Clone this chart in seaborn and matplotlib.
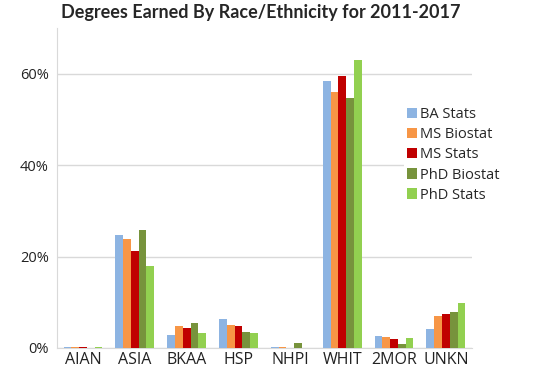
import numpy as np
import pandas as pd
import seaborn as sns
import matplotlib.pyplot as plt
from matplotlib.ticker import MultipleLocator, FuncFormatter

# datos (porcentaje)
races = ['AIAN', 'ASIA', 'BKAA', 'HSP', 'NHPI', 'WHIT', '2MOR', 'UNKN']
degrees = ['BA Stats', 'MS Biostat', 'MS Stats', 'PhD Biostat', 'PhD Stats']
ba_stats = [0.3, 24.8, 2.8, 6.4, 0.2, 58.3, 2.7, 4.1]
ms_biostat = [0.3, 23.9, 4.7, 5.0, 0.2, 56.0, 2.3, 6.9]
ms_stats = [0.2, 21.3, 4.3, 4.8, 0.1, 59.5, 1.9, 7.4]
phd_biostat = [0.0, 25.9, 5.4, 3.6, 1.1, 54.7, 0.9, 7.9]
phd_stats = [0.2, 18.0, 3.2, 3.2, 0.1, 63.0, 2.2, 9.8]
colors = ['#8DB4E2', '#F79646', '#C00000', '#77933C', '#92D050']

series = [ba_stats, ms_biostat, ms_stats, phd_biostat, phd_stats]
df = pd.DataFrame({
    'race': races * len(degrees),
    'degree': np.repeat(degrees, len(races)),
    'pct': np.concatenate(series),
})

sns.set_style('white')
plt.rcParams['font.family'] = ['Open Sans', 'DejaVu Sans']

fig = plt.figure(figsize=(5.38, 3.77), dpi=100)
ax = fig.add_axes([0.106, 0.077, 0.771, 0.849])
sns.barplot(data=df, x='race', y='pct', hue='degree', order=races,
            hue_order=degrees, palette=colors, width=0.75, gap=0,
            saturation=1, linewidth=0, ax=ax, zorder=3)

ax.set_ylim(0, 70)
ax.set_xlim(-0.5, 7.5)
ax.yaxis.set_major_locator(MultipleLocator(20))
ax.yaxis.set_minor_locator(MultipleLocator(5))
ax.yaxis.set_major_formatter(FuncFormatter(lambda v, p: f'{v:.0f}%'))
ax.grid(axis='y', which='major', color='#D9D9D9', lw=1, zorder=0)
ax.set_axisbelow(True)
ax.set_xlabel('')
ax.set_ylabel('')
for s in ['top', 'right']:
    ax.spines[s].set_visible(False)
ax.spines['left'].set_color('#D9D9D9')
ax.spines['bottom'].set_color('#D9D9D9')
ax.tick_params(axis='y', which='both', direction='out', color='#D9D9D9',
               length=4, labelsize=10.5, labelcolor='#222222', pad=2)
ax.tick_params(axis='x', length=0, labelsize=11.5, labelcolor='#222222', pad=3)

leg = ax.legend(loc='upper left', bbox_to_anchor=(397 / 538, 1 - 97 / 377),
                bbox_transform=fig.transFigure, frameon=True, fontsize=10.5,
                handlelength=0.7, handleheight=0.7, handletextpad=0.2,
                labelspacing=0.35, borderpad=0.2)
leg.get_frame().set_edgecolor('none')
leg.get_frame().set_facecolor('white')
leg.get_frame().set_alpha(1)

fig.suptitle('Degrees Earned By Race/Ethnicity for 2011-2017', x=0.485, y=0.99,
             fontsize=13, fontweight='bold', va='top', family=['Lato', 'DejaVu Sans'])

fig.savefig('out.png', dpi=100)
